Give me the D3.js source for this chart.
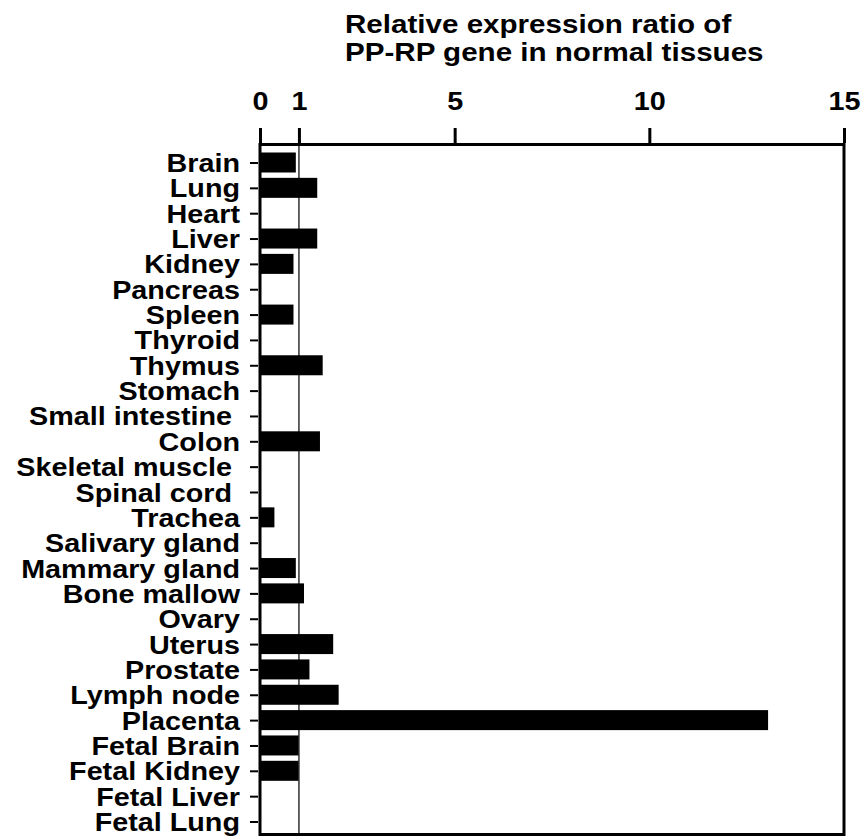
<!DOCTYPE html>
<html>
<head>
<meta charset="utf-8">
<script src="https://cdn.jsdelivr.net/npm/d3@7"></script>
<style>
  html, body { margin: 0; padding: 0; background: #fff; }
  svg { display: block; }
  text { font-family: "Liberation Sans", Arial, Helvetica, sans-serif; font-weight: bold; fill: #000; }
</style>
</head>
<body>
<script>
// Tissue names (top to bottom) and relative PP-RP expression ratios
const tissues = [
  "Brain", "Lung", "Heart", "Liver", "Kidney", "Pancreas", "Spleen", "Thyroid",
  "Thymus", "Stomach", "Small intestine ", "Colon", "Skeletal muscle ", "Spinal cord ",
  "Trachea", "Salivary gland", "Mammary gland", "Bone mallow", "Ovary", "Uterus",
  "Prostate", "Lymph node", "Placenta", "Fetal Brain", "Fetal Kidney", "Fetal Liver", "Fetal Lung"
];
const ratios = [
  0.92, 1.47, 0, 1.47, 0.86, 0, 0.86, 0,
  1.61, 0, 0, 1.54, 0, 0,
  0.37, 0, 0.92, 1.13, 0, 1.88,
  1.27, 2.02, 13.05, 0.99, 0.99, 0, 0
];
const xTicks = [0, 1, 5, 10, 15];
const titleLines = ["Relative expression ratio of", "PP-RP gene in normal tissues"];

const W = 862, H = 837;
const frame = { left: 260, right: 844, top: 144.5, bottom: 834.5 };
const stretch = 1.15; // labels are set wide

const svg = d3.select("body").append("svg").attr("width", W).attr("height", H);

const x = d3.scaleLinear().domain([0, 15]).range([frame.left, frame.right]);
const y = d3.scalePoint().domain(tissues).range([162.5, 821.5]);
const barH = 20;

// Title
const title = svg.append("g").attr("transform", "translate(345,0)");
titleLines.forEach((t, i) => {
  title.append("text")
    .attr("transform", `translate(0,${33 + i * 28}) scale(1.16,1)`)
    .attr("font-size", 25.5)
    .text(t);
});

// Reference line at ratio 1
svg.append("line")
  .attr("x1", x(1)).attr("x2", x(1))
  .attr("y1", frame.top).attr("y2", frame.bottom)
  .attr("stroke", "#222").attr("stroke-width", 1.4);

// Bars
svg.append("g").selectAll("rect")
  .data(tissues.map((t, i) => ({ t, v: ratios[i] })).filter(d => d.v > 0))
  .join("rect")
  .attr("x", x(0))
  .attr("y", d => y(d.t) - barH / 2)
  .attr("width", d => x(d.v) - x(0))
  .attr("height", barH)
  .attr("fill", "#000");

// Top axis
const topAxis = svg.append("g")
  .attr("transform", `translate(0,${frame.top - 1.5})`)
  .call(d3.axisTop(x).tickValues(xTicks).tickSize(15).tickPadding(18).tickFormat(d3.format("d")));
topAxis.select(".domain").remove();
topAxis.selectAll(".tick line").attr("stroke", "#000").attr("stroke-width", 3);
topAxis.selectAll(".tick text")
  .attr("font-size", 25)
  .attr("font-family", null)
  .attr("transform", "scale(1.15,1)");

// Left axis
const leftAxis = svg.append("g")
  .attr("transform", `translate(${frame.left - 2},0)`)
  .call(d3.axisLeft(y).tickSize(8).tickPadding(10));
leftAxis.select(".domain").remove();
leftAxis.selectAll(".tick line").attr("stroke", "#000").attr("stroke-width", 2);
leftAxis.selectAll(".tick text")
  .attr("font-size", 25)
  .attr("font-family", null)
  .style("white-space", "pre")
  .attr("x", -18 / stretch)
  .attr("dy", "0.36em")
  .attr("transform", `scale(${stretch},1)`);

// Plot frame
svg.append("rect")
  .attr("x", frame.left).attr("y", frame.top)
  .attr("width", frame.right - frame.left)
  .attr("height", frame.bottom - frame.top)
  .attr("fill", "none").attr("stroke", "#000").attr("stroke-width", 3);
</script>
</body>
</html>
